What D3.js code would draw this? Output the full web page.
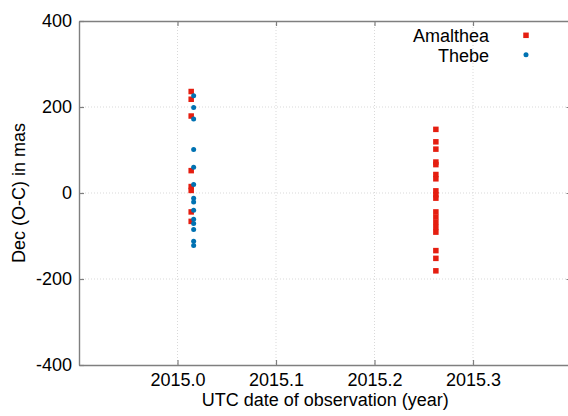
<!DOCTYPE html>
<html>
<head>
<meta charset="utf-8">
<script src="https://cdn.jsdelivr.net/npm/d3@7/dist/d3.min.js"></script>
<style>
  body { margin: 0; background: #fff; }
  text { font-family: "Liberation Sans", Arial, Helvetica, sans-serif; fill: #000; }
</style>
</head>
<body>
<div id="container"></div>
<script>
// values
var xTicks = [2015.0, 2015.1, 2015.2, 2015.3];
var yTicks = [-400, -200, 0, 200, 400];
var gridY = [-200, 0, 200];

var amaltheaYear = [2015.0139, 2015.0139, 2015.0139, 2015.0139, 2015.0139, 2015.0139, 2015.0139, 2015.0139,
                    2015.2623, 2015.2623, 2015.2623, 2015.2623, 2015.2623, 2015.2623, 2015.2623, 2015.2623, 2015.2623,
                    2015.2623, 2015.2623, 2015.2623, 2015.2623, 2015.2623, 2015.2623, 2015.2623, 2015.2623, 2015.2623];
var amaltheaDec  = [236, 218, 179, 52, 15, 6, -44, -66,
                    148, 119, 102, 72, 66, 43, 33, 5, -4,
                    -12, -44, -56, -68, -80, -91, -134, -152, -181];

var thebeYear = [2015.0164, 2015.0164, 2015.0164, 2015.0164, 2015.0164, 2015.0164, 2015.0164,
                 2015.0164, 2015.0164, 2015.0164, 2015.0164, 2015.0164, 2015.0164, 2015.0164];
var thebeDec  = [226, 199, 172, 101, 60, 20, -12, -21, -40, -61, -71, -85, -112, -122];

var width = 568, height = 416;
var plotLeft = 79, plotRight = 571.5, plotTop = 21, plotBottom = 365;
var borderColor = "#7f7f7f";
var red = "#e51e10", blue = "#0072b2";
var fontSize = "18px";

var svg = d3.select("#container").append("svg")
            .attr("width", width)
            .attr("height", height);

var x = d3.scaleLinear().domain([2014.9, 2015.4]).range([plotLeft, plotRight]);
var y = d3.scaleLinear().domain([-400, 400]).range([plotBottom, plotTop]);

// dotted grid
svg.selectAll(".gx").data(xTicks).enter().append("line")
   .attr("x1", function(d) { return x(d); }).attr("x2", function(d) { return x(d); })
   .attr("y1", plotTop).attr("y2", plotBottom)
   .style("stroke", "#cfcfcf").style("stroke-width", 0.8).style("stroke-dasharray", "1,2");
svg.selectAll(".gy").data(gridY).enter().append("line")
   .attr("x1", plotLeft).attr("x2", plotRight)
   .attr("y1", function(d) { return y(d); }).attr("y2", function(d) { return y(d); })
   .style("stroke", "#cfcfcf").style("stroke-width", 0.8).style("stroke-dasharray", "1,2");

// axes: inner ticks on all four sides, labels on bottom/left
var tickLen = 5;
var gBottom = svg.append("g").attr("transform", "translate(0," + plotBottom + ")")
   .call(d3.axisBottom(x).tickValues(xTicks).tickSizeInner(-tickLen).tickSizeOuter(0).tickPadding(8)
         .tickFormat(function(d) { return d.toFixed(1); }));
var gTop = svg.append("g").attr("transform", "translate(0," + plotTop + ")")
   .call(d3.axisTop(x).tickValues(xTicks).tickSizeInner(-tickLen).tickSizeOuter(0).tickFormat(""));
var gLeft = svg.append("g").attr("transform", "translate(" + plotLeft + ",0)")
   .call(d3.axisLeft(y).tickValues(yTicks).tickSizeInner(-tickLen).tickSizeOuter(0).tickPadding(7)
         .tickFormat(function(d) { return String(d); }));
var gRight = svg.append("g").attr("transform", "translate(" + plotRight + ",0)")
   .call(d3.axisRight(y).tickValues(yTicks).tickSizeInner(-tickLen).tickSizeOuter(0).tickFormat(""));

[gBottom, gTop, gLeft, gRight].forEach(function(g) {
  g.selectAll(".domain").style("stroke", borderColor).style("stroke-width", 1.4);
  g.selectAll(".tick line").style("stroke", borderColor).style("stroke-width", 1.2);
  g.selectAll(".tick text").style("font-size", fontSize).style("fill", "#000")
   .style("font-family", "'Liberation Sans', Arial, sans-serif");
});

// axis titles
svg.append("text")
   .attr("x", (plotLeft + plotRight) / 2).attr("y", 406)
   .attr("text-anchor", "middle")
   .style("font-size", fontSize)
   .text("UTC date of observation (year)");
svg.append("text")
   .attr("transform", "translate(25," + (plotTop + plotBottom) / 2 + ") rotate(-90)")
   .attr("text-anchor", "middle")
   .style("font-size", fontSize)
   .text("Dec (O-C) in mas");

// points
var amalthea = amaltheaYear.map(function(v, i) { return { year: v, dec: amaltheaDec[i] }; });
var thebe = thebeYear.map(function(v, i) { return { year: v, dec: thebeDec[i] }; });
var sq = 5.5;

svg.selectAll(".am").data(amalthea).enter().append("rect")
   .attr("x", function(d) { return x(d.year) - sq / 2; })
   .attr("y", function(d) { return y(d.dec) - sq / 2; })
   .attr("width", sq).attr("height", sq)
   .style("fill", red);

svg.selectAll(".th").data(thebe).enter().append("circle")
   .attr("cx", function(d) { return x(d.year); })
   .attr("cy", function(d) { return y(d.dec); })
   .attr("r", 2.5)
   .style("fill", blue);

// legend
svg.append("text").attr("x", 489).attr("y", 42).attr("text-anchor", "end")
   .style("font-size", fontSize).text("Amalthea");
svg.append("rect").attr("x", 526 - sq / 2).attr("y", 35.3 - sq / 2)
   .attr("width", sq).attr("height", sq).style("fill", red);
svg.append("text").attr("x", 489).attr("y", 61.5).attr("text-anchor", "end")
   .style("font-size", fontSize).text("Thebe");
svg.append("circle").attr("cx", 526).attr("cy", 54.7).attr("r", 2.5).style("fill", blue);
</script>
</body>
</html>
